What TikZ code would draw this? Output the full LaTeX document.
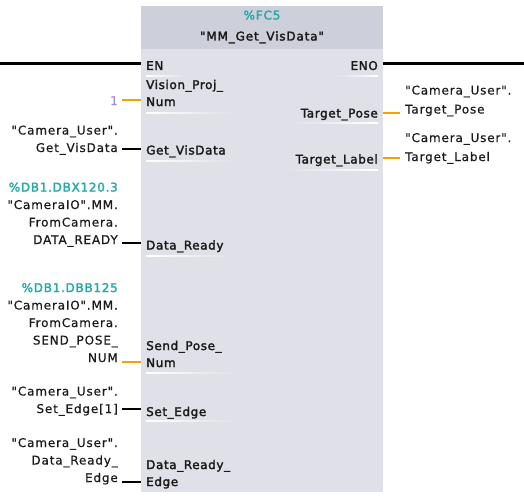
\documentclass[tikz,border=0pt]{standalone}
\usepackage{fontspec}
\setmainfont{DejaVu Sans}
\newfontfamily\pinfont[FakeBold=2.2,LetterSpace=5]{DejaVu Sans}
\newfontfamily\headfont[FakeBold=2.2,LetterSpace=7]{DejaVu Sans}
\newfontfamily\varfont[FakeBold=0.6,LetterSpace=7]{DejaVu Sans}
\newfontfamily\addrfont[FakeBold=2.2,LetterSpace=6]{DejaVu Sans}
\definecolor{bodyc}{HTML}{DFE0E8}
\definecolor{headc}{HTML}{CDD0DA}
\definecolor{tealc}{HTML}{25A8A8}
\definecolor{orangec}{HTML}{F5A200}
\definecolor{constc}{HTML}{9A8FE0}
\definecolor{txtc}{HTML}{1A1A1A}
\tikzset{
  pinl/.style={anchor=base west, inner sep=0pt, align=left, text=txtc,
    font=\pinfont\fontsize{12}{17}\selectfont},
  pinr/.style={anchor=base east, inner sep=0pt, align=right, text=txtc,
    font=\pinfont\fontsize{12}{17}\selectfont},
  varl/.style={anchor=base east, inner sep=0pt, align=right, text=txtc,
    font=\varfont\fontsize{12}{17.5}\selectfont},
  varr/.style={anchor=base west, inner sep=0pt, align=left, text=txtc,
    font=\varfont\fontsize{12}{19}\selectfont},
  bwire/.style={draw=black, line width=2pt},
  owire/.style={draw=orangec, line width=2.2pt},
  rail/.style={draw=black, line width=2.4pt},
  ulinel/.style={left color=white, right color=bodyc},
  uliner/.style={left color=bodyc, right color=white},
}
\begin{document}
\begin{tikzpicture}[x=1pt,y=-1pt]
\useasboundingbox (0,0) rectangle (524,503);
% box
\node[fill=bodyc, inner sep=0pt, minimum width=242pt, minimum height=486pt, anchor=north west] (fb) at (141,6) {};
\fill[headc] (fb.north west) rectangle ([yshift=-43pt]fb.north east);
\node[anchor=base, inner sep=0pt, text=tealc, font=\headfont\fontsize{12}{14}\selectfont] (fbaddr) at (262,19.5) {\%FC5};
\node[anchor=base, inner sep=0pt, text=txtc, font=\headfont\fontsize{12}{14}\selectfont] (fbname) at (262,40.5) {"MM\_Get\_VisData"};

% pin coordinates on the box edges
\coordinate (pEN) at (141,63.5);
\coordinate (pENO) at (383,63.5);
\coordinate (pVis) at (141,100);
\coordinate (pGet) at (141,149);
\coordinate (pDR) at (141,243);
\coordinate (pSend) at (141,362);
\coordinate (pSet) at (141,409);
\coordinate (pDRE) at (141,482);
\coordinate (pTP) at (383,113);
\coordinate (pTL) at (383,158);
\coordinate (railL) at (0,63.5);
\coordinate (railR) at (524,63.5);

% underlines
\shade[ulinel] (146,75.5) rectangle (185,76.8);
\shade[uliner] (335,75) rectangle (378,76.3);
\shade[ulinel] (146,112.5) rectangle (235,113.8);
\shade[uliner] (290,122.5) rectangle (378,123.8);
\shade[ulinel] (146,160.5) rectangle (235,161.8);
\shade[uliner] (285,169.5) rectangle (378,170.8);
\shade[ulinel] (146,255) rectangle (235,256.3);
\shade[ulinel] (146,372.5) rectangle (235,373.8);
\shade[ulinel] (146,420.5) rectangle (235,421.8);

% pin labels
\node[pinl] (lEN) at (146,70) {EN};
\node[pinr] (lENO) at (378,70) {ENO};
\node[pinl] (lVis) at (146,106) {Vision\_Proj\_\\Num};
\node[pinl] (lGet) at (146,154.5) {Get\_VisData};
\node[pinl] (lDR) at (146,249.5) {Data\_Ready};
\node[pinl] (lSend) at (146,367) {Send\_Pose\_\\Num};
\node[pinl] (lSet) at (146,416) {Set\_Edge};
\node[pinl] (lDRE) at (146,486) {Data\_Ready\_\\Edge};
\node[pinr] (lTP) at (378,117.5) {Target\_Pose};
\node[pinr] (lTL) at (378,163.5) {Target\_Label};

% operands
\node[varl, text=constc] (vVis) at (118,105) {1};
\node[varl] (vGet) at (118,152) {"Camera\_User".\\Get\_VisData};
\node[varl] (vDR) at (118,244) {{\addrfont\color{tealc}\%DB1.DBX120.3}\\"CameraIO".MM.\\FromCamera.\\DATA\_READY};
\node[varl] (vSend) at (118,362) {{\addrfont\color{tealc}\%DB1.DBB125}\\"CameraIO".MM.\\FromCamera.\\SEND\_POSE\_\\NUM};
\node[varl] (vSet) at (118,413) {"Camera\_User".\\Set\_Edge[1]};
\node[varl] (vDRE) at (118,482) {"Camera\_User".\\Data\_Ready\_\\Edge};
\node[varr] (vTP) at (405,113.5) {"Camera\_User".\\Target\_Pose};
\node[varr] (vTL) at (405,161) {"Camera\_User".\\Target\_Label};

% wires
\draw[rail] (railL) -- (pEN);
\draw[rail] (pENO) -- (railR);
\draw[owire] ([xshift=4pt]vVis.east |- pVis) -- (pVis);
\draw[bwire] ([xshift=4pt]vGet.east |- pGet) -- (pGet);
\draw[bwire] ([xshift=4pt]vDR.east |- pDR) -- (pDR);
\draw[owire] ([xshift=4pt]vSend.east |- pSend) -- (pSend);
\draw[bwire] ([xshift=4pt]vSet.east |- pSet) -- (pSet);
\draw[bwire] ([xshift=4pt]vDRE.east |- pDRE) -- (pDRE);
\draw[owire] (pTP) -- ([xshift=-5pt]vTP.west |- pTP);
\draw[owire] (pTL) -- ([xshift=-5pt]vTL.west |- pTL);
\end{tikzpicture}
\end{document}
